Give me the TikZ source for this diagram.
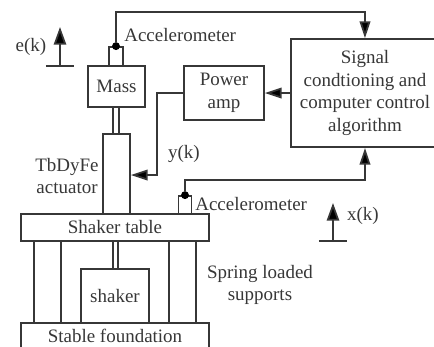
\documentclass[tikz,border=0pt]{standalone}
\usepackage{fontspec}
\setmainfont{Liberation Serif}
\usetikzlibrary{arrows.meta}
\definecolor{inkgray}{RGB}{55, 55, 55}

\tikzset{
    block/.style={draw=inkgray, text=inkgray, line width=1pt, inner sep=0pt, align=center},
    lbl/.style={text=inkgray, inner sep=0pt, align=center},
    link/.style={draw=inkgray, line width=1pt, -{Triangle[length=9.5pt,width=6pt,fill=black]}},
    lift/.style={draw=inkgray, line width=1pt, -{Triangle[length=10pt,width=7pt,fill=black]}},
    wire/.style={draw=inkgray, line width=1pt},
    sensordot/.style={circle, fill=black, inner sep=0pt, minimum size=4.5pt},
}

\begin{document}
\begin{tikzpicture}[x=0.02cm, y=-0.02cm, font=\fontsize{10.8}{12.9}\selectfont]
    \useasboundingbox (0,0) rectangle (434,346);

    \node[block, minimum width=1.14cm, minimum height=0.82cm] (mass) at (116.5,86.5) {Mass};
    \node[block, minimum width=0.28cm, minimum height=0.38cm] (sensor1) at (116,56.5) {};
    \node[block, minimum width=0.11cm, minimum height=0.54cm] (rod1) at (116,120.5) {};
    \node[block, minimum width=0.54cm, minimum height=1.60cm] (actuator) at (116.5,174) {};
    \node[block, minimum width=3.76cm, minimum height=0.54cm] (table) at (115,227.5) {Shaker table};
    \node[block, minimum width=0.26cm, minimum height=0.36cm] (sensor2) at (185,205) {};
    \node[block, minimum width=0.54cm, minimum height=1.64cm] (leg1) at (47.5,282) {};
    \node[block, minimum width=0.54cm, minimum height=1.64cm] (leg2) at (182.5,282) {};
    \node[block, minimum width=0.11cm, minimum height=0.56cm] (rod2) at (115.5,255) {};
    \node[block, minimum width=1.36cm, minimum height=1.08cm] (shaker) at (115,296) {shaker};
    \node[block, minimum width=3.76cm, minimum height=0.52cm] (foundation) at (115,336) {Stable foundation};
    \node[block, minimum width=1.60cm, minimum height=1.08cm] (power) at (224,93) {Power\\amp};
    \node[block, minimum width=2.96cm, minimum height=2.16cm] (signal) at (365,93) {Signal\\condtioning and\\computer control\\algorithm};

    \node[sensordot] (dot1) at (sensor1.north) {};
    \node[sensordot] (dot2) at (sensor2.north) {};

    \node[lbl, anchor=west] (acc1) at (124,35) {Accelerometer};
    \node[lbl, anchor=west] (acc2) at (195,204) {Accelerometer};
    \node[lbl, anchor=east] (tbdyfe) at (99,176) {TbDyFe\\actuator};
    \node[lbl] (yk) at (184,154) {y(k)};
    \node[lbl] (ek) at (31,47) {e(k)};
    \node[lbl] (xk) at (363,216) {x(k)};
    \node[lbl] (spring) at (260,285) {Spring loaded\\supports};

    \coordinate (bend1) at (116,12);
    \coordinate (bend2) at (185,180);
    \coordinate (bend3) at (157,175);
    \coordinate (ebase) at (60,66);
    \coordinate (etip) at (60,27);
    \coordinate (eleft) at (46,66);
    \coordinate (eright) at (74,66);
    \coordinate (xbase) at (333,241);
    \coordinate (xtip) at (333,203);
    \coordinate (xleft) at (319,241);
    \coordinate (xright) at (347,241);

    \draw[link] (dot1) -- (bend1) -| (signal.north);
    \draw[link] (dot2) -- (bend2) -| (signal.south);
    \draw[link] (signal.west) -- (power.east);
    \draw[link] (power.west) -| (bend3) -- (actuator.east |- bend3);

    \draw[wire] (eleft) -- (eright);
    \draw[wire] (xleft) -- (xright);
    \draw[lift] (ebase) -- (etip);
    \draw[lift] (xbase) -- (xtip);
\end{tikzpicture}
\end{document}
